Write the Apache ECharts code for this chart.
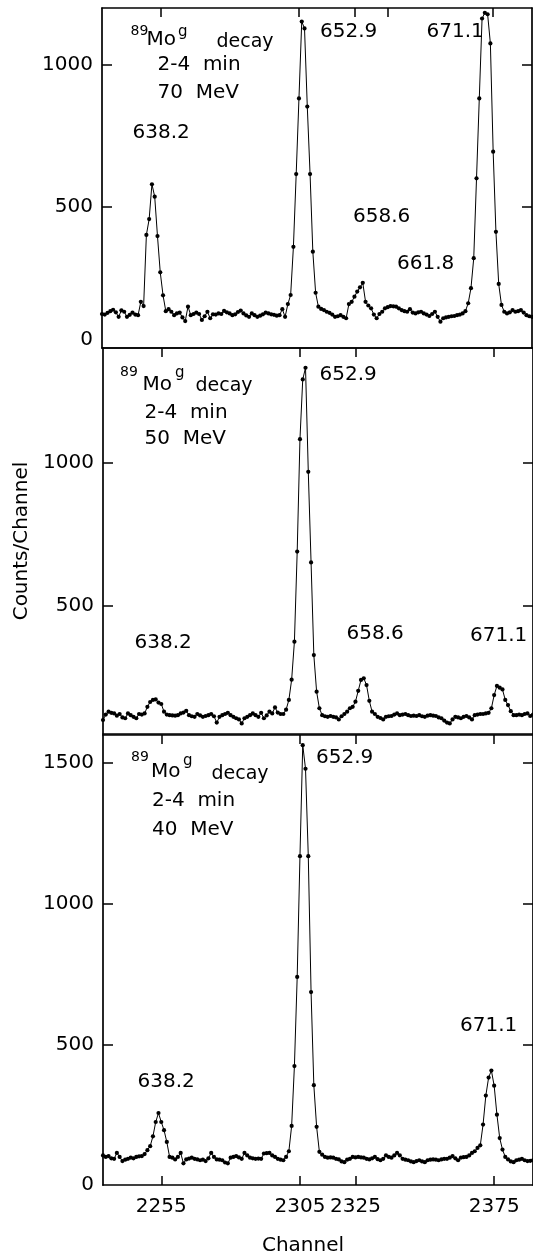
<!DOCTYPE html>
<html>
<head>
<meta charset="utf-8">
<script src="https://cdn.jsdelivr.net/npm/echarts@6/dist/echarts.min.js"></script>
<style>
html,body{margin:0;padding:0;background:#fff;}
#c{width:533px;height:1257px;}
</style>
</head>
<body>
<div id="c"></div>
<script>
// ---- data ----
const firstChannel = 2234;          // channel of the first point in every spectrum
const xTickChannels = [2255, 2305, 2325, 2375];
const topTickChannels70 = [2255, 2305, 2325, 2337, 2375];

const yTicks70 = [0, 500, 1000];
const yTicks50 = [500, 1000];
const yTicks40 = [0, 500, 1000, 1500];

// 70 MeV spectrum, counts per channel
const counts70 = [
120,118,124,130,135,126,110,133,128,110,117,125,118,116,163,148,399,455,578,534,
395,267,186,130,137,128,116,122,125,108,95,146,116,120,125,120,99,112,128,105,
119,118,122,120,131,126,122,116,119,127,132,122,115,110,122,116,110,114,119,125,
122,119,117,114,116,137,110,155,187,357,614,881,1152,1128,852,614,340,195,146,138,
134,128,124,118,110,112,116,110,105,155,163,181,199,214,230,163,150,140,118,105,
120,128,140,144,148,147,146,140,134,130,128,137,125,122,126,128,122,118,113,120,
128,110,93,105,108,110,112,113,116,118,122,130,158,211,317,599,881,1163,1183,1178,
1075,693,410,226,152,128,122,126,134,128,130,134,125,116,112,110
];

// 50 MeV spectrum
const counts50 = [
99,118,128,124,122,114,120,108,105,122,116,110,105,120,118,122,145,162,169,171,
160,155,128,118,116,115,114,116,122,125,131,116,112,110,120,115,110,113,116,120,
112,90,110,116,120,124,116,110,105,101,87,105,110,116,122,116,110,124,105,115,
128,122,143,125,120,120,135,169,240,373,688,1081,1290,1331,967,650,326,198,140,116,
112,110,113,110,108,101,112,120,128,140,145,163,201,239,245,221,166,128,120,110,
106,101,110,112,113,118,122,116,118,120,116,113,114,113,116,112,110,114,116,114,
113,108,105,97,90,87,101,110,108,105,110,113,108,101,116,118,120,120,122,124,
140,186,218,212,206,169,151,130,116,116,118,116,120,122,113,118
];

// 40 MeV spectrum
const counts40 = [
105,100,103,95,93,114,100,85,90,93,97,95,100,102,103,110,124,138,173,224,
256,224,195,153,100,97,91,100,114,77,91,94,97,93,91,88,90,85,95,114,
100,91,90,88,80,77,97,100,103,98,93,114,105,97,95,93,94,93,112,113,
114,105,100,93,90,88,100,120,210,423,740,1169,1564,1480,1169,686,355,207,118,108,
100,97,98,97,93,91,84,81,90,93,100,98,100,98,97,93,91,95,100,92,
88,93,105,100,97,105,114,105,93,90,88,84,81,85,88,84,81,88,90,91,
90,88,91,93,93,97,103,95,88,97,99,100,105,114,120,132,141,215,318,382,
407,353,250,167,126,100,91,84,81,88,90,93,88,85,86,88
];

// ---- build ----
function pts(arr){ return arr.map((v,i)=>[firstChannel+i, v]); }

const FONT = 'DejaVu Sans';
const BLACK = '#000';
const xMin = 2234, xMax = 2389;
const plain = v => String(v);

const grids = [
  {left:102, top:8,   width:430, height:340},
  {left:103, top:348, width:430, height:386},
  {left:103, top:735, width:430, height:454}
];

function xAx(grid, pos, ticks, labels, extra){
  return Object.assign({
    type:'value', gridIndex:grid, position:pos, min:xMin, max:xMax,
    axisLine:{show:true, onZero:false, lineStyle:{color:BLACK, width:1.7}},
    axisTick:{show:ticks.length>0, inside:true, length:9, customValues:ticks, lineStyle:{color:BLACK, width:1.5}},
    axisLabel:{show:!!labels, customValues:labels||[], formatter:plain, color:BLACK, fontFamily:FONT, fontSize:20, margin:12},
    splitLine:{show:false}
  }, extra||{});
}
function yAx(grid, pos, min, max, ticks, labels, extra){
  return Object.assign({
    type:'value', gridIndex:grid, position:pos, min:min, max:max,
    axisLine:{show:true, onZero:false, lineStyle:{color:BLACK, width:1.7}},
    axisTick:{show:true, inside:true, length:10, customValues:ticks, lineStyle:{color:BLACK, width:1.5}},
    axisLabel:{show:!!labels, customValues:labels||[], formatter:plain, color:BLACK, fontFamily:FONT, fontSize:20, margin:9},
    splitLine:{show:false}
  }, extra||{});
}

const xAxes = [
  xAx(0,'bottom',[],null),
  xAx(0,'top',topTickChannels70,null),
  xAx(1,'bottom',[],null),
  xAx(1,'top',xTickChannels,null),
  xAx(2,'bottom',xTickChannels,xTickChannels,{
    name:'Channel', nameLocation:'middle', nameGap:51,
    nameTextStyle:{color:BLACK, fontFamily:FONT, fontSize:20, padding:[0,30,0,0]}
  }),
  xAx(2,'top',xTickChannels,null)
];

const y70 = yAx(0,'left',0,1200,[500,1000],yTicks70);
y70.axisLabel.formatter = function(v){ return v===0 ? '{lift|0}' : String(v); };
y70.axisLabel.rich = {lift:{padding:[0,0,16,0], fontFamily:FONT, fontSize:20, color:BLACK}};

const yAxes = [
  y70,
  yAx(0,'right',0,1200,[500,1000],null),
  yAx(1,'left',50,1400,[500,1000],yTicks50,{
    name:'Counts/Channel', nameLocation:'middle', nameRotate:90, nameGap:58,
    nameTextStyle:{color:BLACK, fontFamily:FONT, fontSize:20}
  }),
  yAx(1,'right',50,1400,[500,1000],null),
  yAx(2,'left',0,1600,[500,1000,1500],yTicks40),
  yAx(2,'right',0,1600,[500,1000,1500],null)
];

function spec(arr, xi, yi){
  return {
    type:'line', xAxisIndex:xi, yAxisIndex:yi, data:pts(arr),
    symbol:'circle', symbolSize:4.2, showAllSymbol:true, clip:true,
    itemStyle:{color:BLACK}, lineStyle:{color:BLACK, width:1},
    emphasis:{disabled:true}, animation:false
  };
}

function t(x, y, s, size){
  return {type:'text', x:x, y:y, silent:true,
    style:{text:s, fill:BLACK, font:size+'px "'+FONT+'"', textAlign:'left', textVerticalAlign:'middle'}};
}

const graphics = [
  // 70 MeV panel
  t(130.5, 31, '89', 14), t(146.5, 40, 'Mo', 20), t(178, 32, 'g', 15), t(216.5, 42, 'decay', 19),
  t(157.5, 65, '2-4  min', 20), t(157.5, 92.5, '70  MeV', 20),
  t(132.5, 132.5, '638.2', 20), t(320, 31.5, '652.9', 20), t(426.5, 31.5, '671.1', 20),
  t(353, 216.5, '658.6', 20), t(397, 263.5, '661.8', 20),
  // 50 MeV panel
  t(120, 372, '89', 14), t(142.5, 385, 'Mo', 20), t(175, 373, 'g', 15), t(195.5, 386, 'decay', 19),
  t(144.5, 413, '2-4  min', 20), t(144.5, 439, '50  MeV', 20),
  t(134.5, 643, '638.2', 20), t(319.5, 374.5, '652.9', 20), t(346.5, 634, '658.6', 20), t(470, 636, '671.1', 20),
  // 40 MeV panel
  t(131, 757.5, '89', 14), t(151, 772, 'Mo', 20), t(183, 761.5, 'g', 15), t(211.5, 774, 'decay', 19),
  t(152, 801, '2-4  min', 20), t(152, 830, '40  MeV', 20),
  t(316, 757.5, '652.9', 20), t(137.5, 1082, '638.2', 20), t(460, 1026, '671.1', 20)
];

const chart = echarts.init(document.getElementById('c'), null, {renderer:'canvas'});
chart.setOption({
  animation:false,
  backgroundColor:'#fff',
  grid:grids,
  xAxis:xAxes,
  yAxis:yAxes,
  series:[spec(counts70,0,0), spec(counts50,2,2), spec(counts40,4,4)],
  graphic:graphics
});
</script>
</body>
</html>
